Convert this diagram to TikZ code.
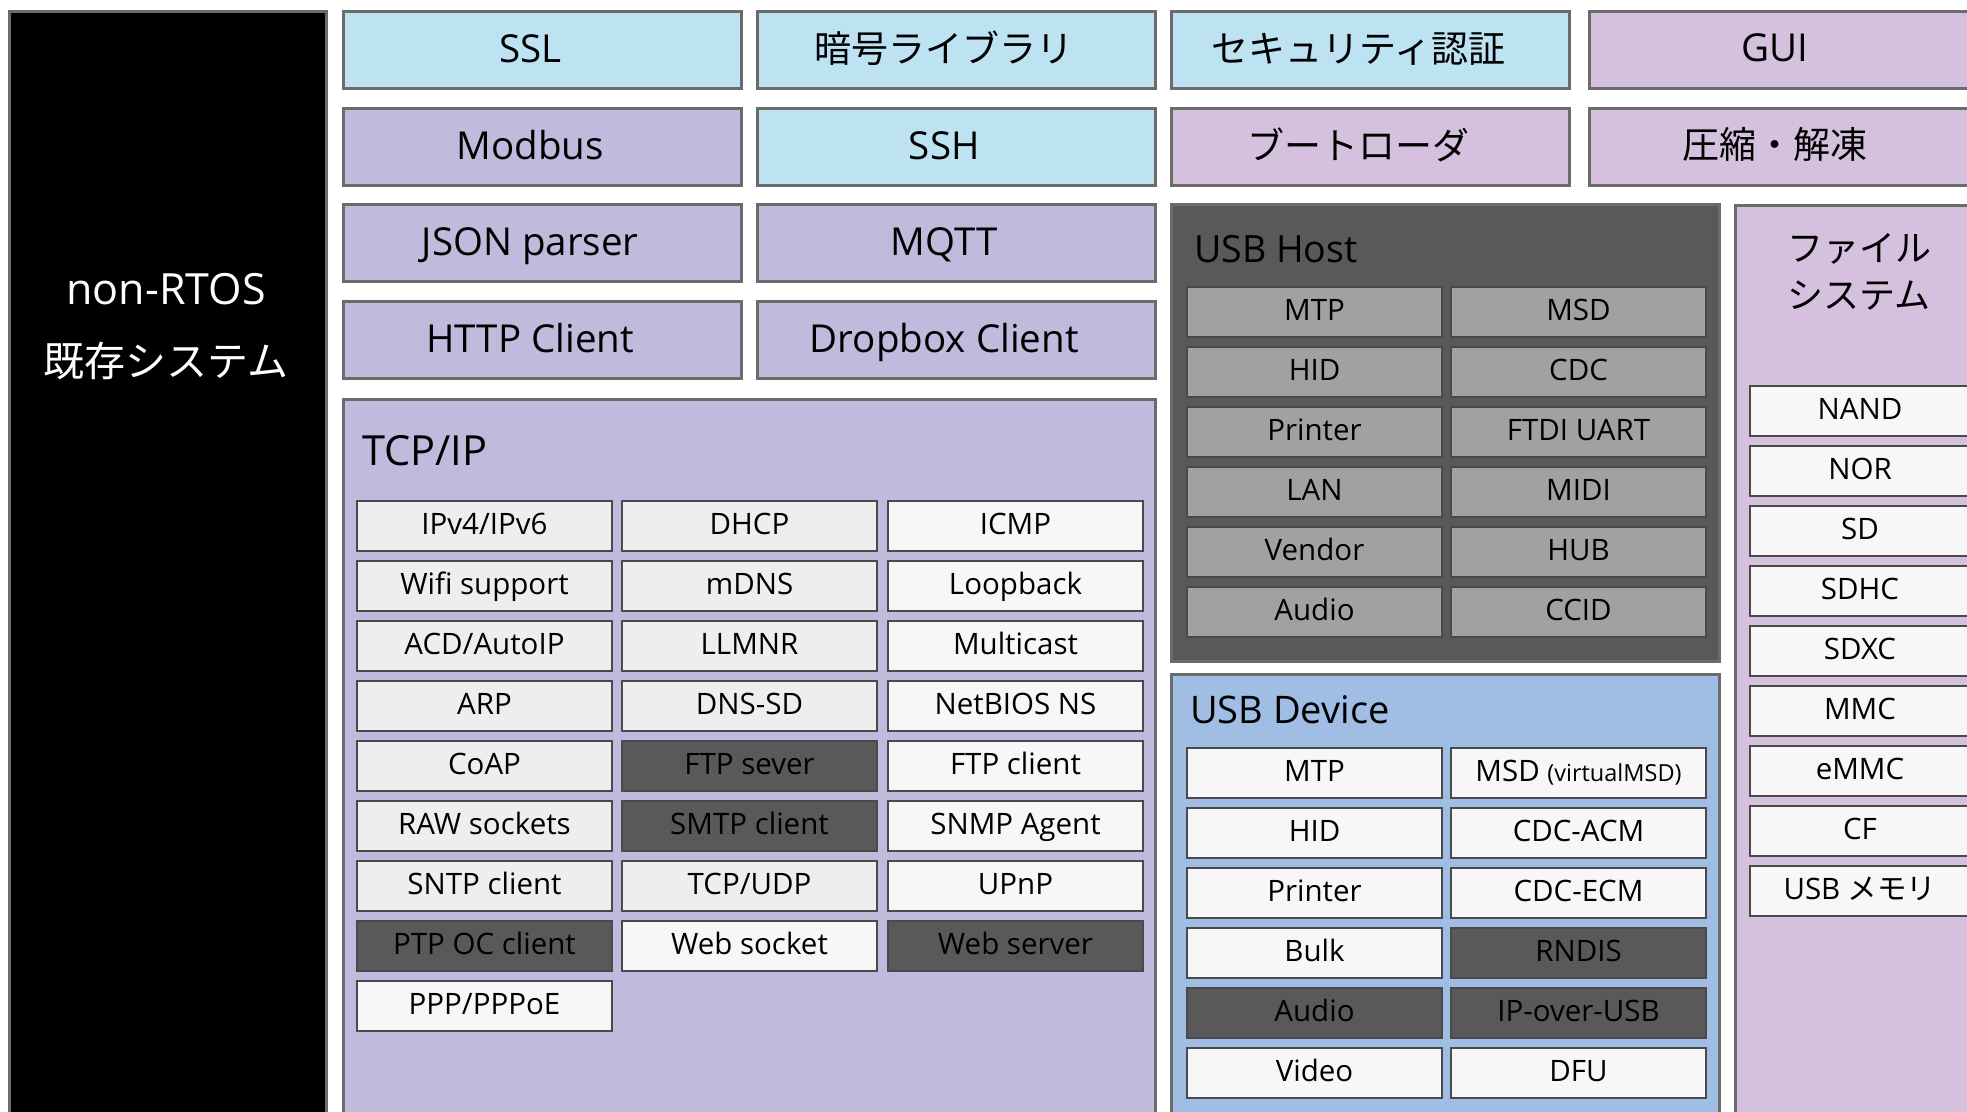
\documentclass[tikz,border=0pt]{standalone}
\usepackage{fontspec}
\setmainfont{Open Sans}
\newfontfamily\cjk{Noto Sans CJK JP}
\definecolor{edgegray}{HTML}{6B6B6B}
\definecolor{celledge}{HTML}{4A4A4A}
\definecolor{skyblue}{HTML}{BDE3F3}
\definecolor{lavender}{HTML}{BEBBDC}
\definecolor{lilac}{HTML}{D5C1DE}
\definecolor{devblue}{HTML}{A0BDE3}
\definecolor{darkgray}{HTML}{5A5859}
\definecolor{midgray}{HTML}{A0A1A0}
\definecolor{lightgray}{HTML}{EEEEEE}
\definecolor{paper}{HTML}{F6F7F6}
\begin{document}
\begin{tikzpicture}[x=1pt,y=-1pt,
  panel/.style={draw=edgegray, line width=2.5pt, anchor=north west, inner sep=0pt},
  cell/.style={panel, minimum width=398pt, minimum height=77pt,
    font=\fontsize{38.5}{46}\selectfont, text height=28pt, text depth=3pt,
    execute at begin node={\hspace*{-24pt}}},
  sub/.style={draw=celledge, line width=2pt, anchor=north west, inner sep=0pt,
    minimum width=255pt, minimum height=50pt,
    font=\fontsize{29.5}{34}\selectfont, text height=21pt, text depth=4.5pt},
  g/.style={sub, fill=lightgray},
  w/.style={sub, fill=paper},
  d/.style={sub, fill=darkgray},
  h/.style={sub, fill=midgray},
  fs/.style={sub, fill=paper, minimum width=220pt},
  title/.style={anchor=base west, inner sep=0pt, font=\fontsize{38}{44}\selectfont},
  txt/.style={inner sep=0pt, font=\fontsize{38.5}{46}\selectfont, text height=28pt, text depth=3pt}
]
\useasboundingbox (0,0) rectangle (1967,1111);
\fill[white] (0,0) rectangle (1967,1111);

% legacy system column
\node[panel, fill=black, minimum width=317pt, minimum height=1120pt] (legacy) at (8,10) {};
\node[txt, text=white, font=\fontsize{43}{48}\selectfont] (legacyA) at (166,292) {non-RTOS};
\node[txt, text=white, font=\fontsize{41}{48}\cjk] (legacyB) at (166,364) {既存システム};

% middleware blocks
\node[cell, fill=skyblue] (ssl) at (342,10) {SSL};
\node[cell, fill=skyblue, font=\fontsize{37}{46}\cjk] (crypto) at (756,10) {暗号ライブラリ};
\node[cell, fill=skyblue, font=\fontsize{37}{46}\cjk] (auth) at (1170,10) {セキュリティ認証};
\node[cell, fill=lilac, minimum width=430pt] (gui) at (1588,10) {};
\node[txt] (guiT) at (1775,48.5) {GUI};

\node[cell, fill=lavender] (modbus) at (342,107) {Modbus};
\node[cell, fill=skyblue] (ssh) at (756,107) {SSH};
\node[cell, fill=lilac, font=\fontsize{37}{46}\cjk] (boot) at (1170,107) {ブートローダ};
\node[cell, fill=lilac, minimum width=430pt] (zip) at (1588,107) {};
\node[txt, font=\fontsize{37}{46}\cjk] (zipT) at (1775,145.5) {圧縮・解凍};

\node[cell, fill=lavender] (json) at (342,203) {JSON parser};
\node[cell, fill=lavender] (mqtt) at (756,203) {MQTT};
\node[cell, fill=lavender] (http) at (342,300) {HTTP Client};
\node[cell, fill=lavender] (dropbox) at (756,300) {Dropbox Client};

% TCP/IP stack
\node[panel, fill=lavender, minimum width=812pt, minimum height=760pt] (tcpip) at (342,398) {};
\node[title, font=\fontsize{41.5}{46}\selectfont] (tcpipT) at (362,465) {TCP/IP};
\foreach \r/\a/\sa/\b/\sb/\c/\sc in {
  0/IPv4\slash IPv6/g/DHCP/g/ICMP/w,
  1/Wifi support/g/mDNS/g/Loopback/w,
  2/ACD\slash AutoIP/g/LLMNR/g/Multicast/w,
  3/ARP/g/DNS-SD/g/NetBIOS NS/w,
  4/CoAP/g/FTP sever/d/FTP client/w,
  5/RAW sockets/g/SMTP client/d/SNMP Agent/w,
  6/SNTP client/g/TCP\slash UDP/g/UPnP/w,
  7/PTP OC client/d/Web socket/w/Web server/d}{
  \node[\sa] (tA\r) at (356,500+60*\r) {\a};
  \node[\sb] (tB\r) at (621,500+60*\r) {\b};
  \node[\sc] (tC\r) at (887,500+60*\r) {\c};
}
\node[w] (tA8) at (356,980) {PPP/PPPoE};

% USB host stack
\node[panel, fill=darkgray, minimum width=548pt, minimum height=457pt] (host) at (1170,203) {};
\node[title, font=\fontsize{37.5}{44}\selectfont] (hostT) at (1194,262) {USB Host};
\foreach \r/\a/\b in {0/MTP/MSD,1/HID/CDC,2/Printer/FTDI UART,3/LAN/MIDI,4/Vendor/HUB,5/Audio/CCID}{
  \node[h] (hA\r) at (1186,286+60*\r) {\a};
  \node[h] (hB\r) at (1450,286+60*\r) {\b};
}

% USB device stack
\node[panel, fill=devblue, minimum width=548pt, minimum height=480pt] (dev) at (1170,673) {};
\node[title] (devT) at (1190,723) {USB Device};
\foreach \r/\a/\sa/\b/\sb in {
  0/MTP/w/{MSD {\fontsize{23.5}{28}\selectfont(virtualMSD)}}/w,
  1/HID/w/CDC-ACM/w,
  2/Printer/w/CDC-ECM/w,
  3/Bulk/w/RNDIS/d,
  4/Audio/d/IP-over-USB/d,
  5/Video/w/DFU/w}{
  \node[\sa] (dA\r) at (1186,747+60*\r) {\a};
  \node[\sb] (dB\r) at (1450,747+60*\r) {\b};
}

% file system
\node[panel, fill=lilac, minimum width=300pt, minimum height=950pt] (fsys) at (1734,204) {};
\node[inner sep=0pt, align=center, font=\fontsize{36}{47}\cjk] (fsysT) at (1859,272) {ファイル\\システム};
\foreach \r/\a in {0/NAND,1/NOR,2/SD,3/SDHC,4/SDXC,5/MMC,6/eMMC,7/CF}{
  \node[fs] (f\r) at (1749,385+60*\r) {\a};
}
\node[fs] (f8) at (1749,865) {USB {\cjk メモリ}};
\end{tikzpicture}
\end{document}
